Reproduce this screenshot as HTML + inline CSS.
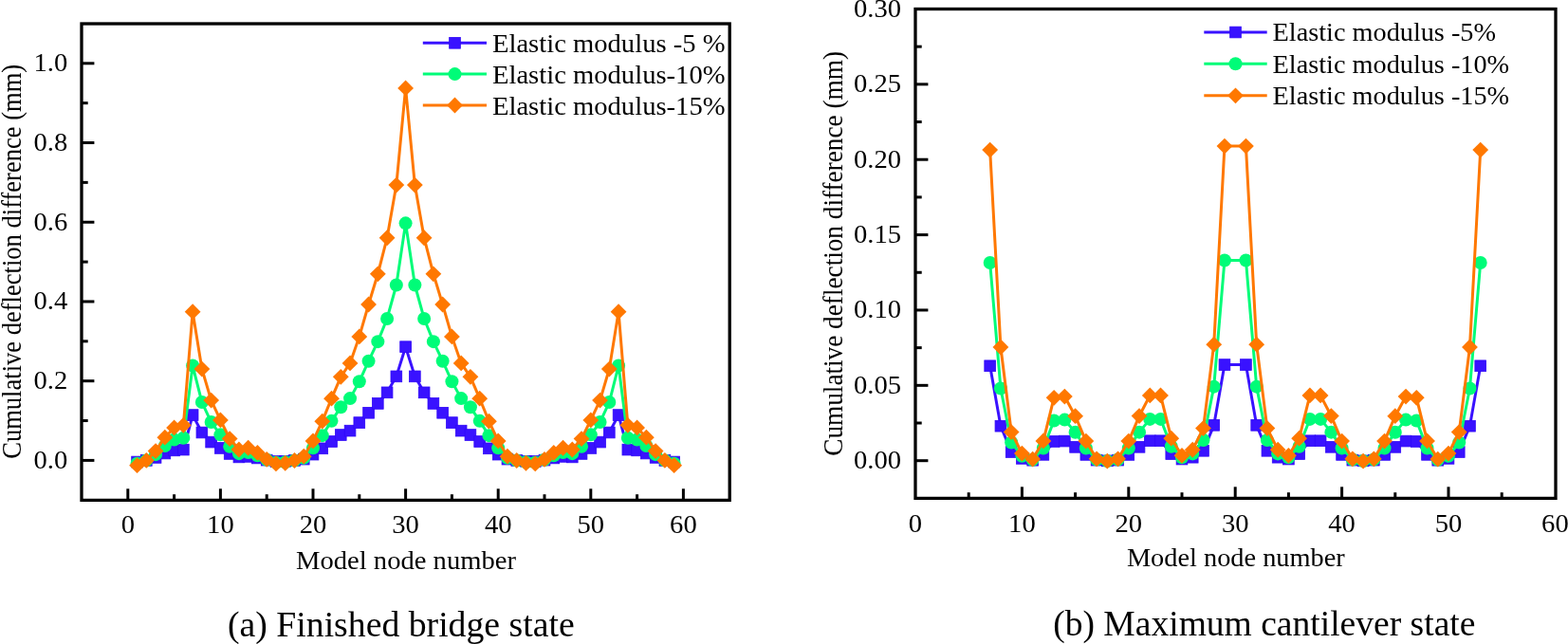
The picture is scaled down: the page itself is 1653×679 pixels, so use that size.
<!DOCTYPE html>
<html><head><meta charset="utf-8"><title>Cumulative deflection difference</title>
<style>
html,body{margin:0;padding:0;background:#fff;}
body{width:1653px;height:679px;overflow:hidden;}
svg{display:block;}
svg text{font-family:"Liberation Serif", "Times New Roman", serif;fill:#000;}
</style></head>
<body>
<svg width="1653" height="679" viewBox="0 0 1653 679">
<rect x="86" y="25" width="683.20" height="502.40" fill="none" stroke="#000" stroke-width="3.3"/>
<line x1="86" y1="485.40" x2="99.40" y2="485.40" stroke="#000" stroke-width="3"/>
<line x1="86" y1="401.68" x2="99.40" y2="401.68" stroke="#000" stroke-width="3"/>
<line x1="86" y1="317.96" x2="99.40" y2="317.96" stroke="#000" stroke-width="3"/>
<line x1="86" y1="234.24" x2="99.40" y2="234.24" stroke="#000" stroke-width="3"/>
<line x1="86" y1="150.52" x2="99.40" y2="150.52" stroke="#000" stroke-width="3"/>
<line x1="86" y1="66.80" x2="99.40" y2="66.80" stroke="#000" stroke-width="3"/>
<line x1="86" y1="443.54" x2="92.70" y2="443.54" stroke="#000" stroke-width="3"/>
<line x1="86" y1="359.82" x2="92.70" y2="359.82" stroke="#000" stroke-width="3"/>
<line x1="86" y1="276.10" x2="92.70" y2="276.10" stroke="#000" stroke-width="3"/>
<line x1="86" y1="192.38" x2="92.70" y2="192.38" stroke="#000" stroke-width="3"/>
<line x1="86" y1="108.66" x2="92.70" y2="108.66" stroke="#000" stroke-width="3"/>
<line x1="134.80" y1="527.4" x2="134.80" y2="515.30" stroke="#000" stroke-width="3"/>
<line x1="232.40" y1="527.4" x2="232.40" y2="515.30" stroke="#000" stroke-width="3"/>
<line x1="330.00" y1="527.4" x2="330.00" y2="515.30" stroke="#000" stroke-width="3"/>
<line x1="427.60" y1="527.4" x2="427.60" y2="515.30" stroke="#000" stroke-width="3"/>
<line x1="525.20" y1="527.4" x2="525.20" y2="515.30" stroke="#000" stroke-width="3"/>
<line x1="622.80" y1="527.4" x2="622.80" y2="515.30" stroke="#000" stroke-width="3"/>
<line x1="720.40" y1="527.4" x2="720.40" y2="515.30" stroke="#000" stroke-width="3"/>
<line x1="183.60" y1="527.4" x2="183.60" y2="521.20" stroke="#000" stroke-width="3"/>
<line x1="281.20" y1="527.4" x2="281.20" y2="521.20" stroke="#000" stroke-width="3"/>
<line x1="378.80" y1="527.4" x2="378.80" y2="521.20" stroke="#000" stroke-width="3"/>
<line x1="476.40" y1="527.4" x2="476.40" y2="521.20" stroke="#000" stroke-width="3"/>
<line x1="574.00" y1="527.4" x2="574.00" y2="521.20" stroke="#000" stroke-width="3"/>
<line x1="671.60" y1="527.4" x2="671.60" y2="521.20" stroke="#000" stroke-width="3"/>
<text transform="translate(71.20,493.90) scale(1.06,1)" font-size="27" text-anchor="end" >0.0</text>
<text transform="translate(71.20,410.18) scale(1.06,1)" font-size="27" text-anchor="end" >0.2</text>
<text transform="translate(71.20,326.46) scale(1.06,1)" font-size="27" text-anchor="end" >0.4</text>
<text transform="translate(71.20,242.74) scale(1.06,1)" font-size="27" text-anchor="end" >0.6</text>
<text transform="translate(71.20,159.02) scale(1.06,1)" font-size="27" text-anchor="end" >0.8</text>
<text transform="translate(71.20,75.30) scale(1.06,1)" font-size="27" text-anchor="end" >1.0</text>
<text transform="translate(134.80,561.50) scale(1.06,1)" font-size="27" text-anchor="middle" >0</text>
<text transform="translate(232.40,561.50) scale(1.06,1)" font-size="27" text-anchor="middle" >10</text>
<text transform="translate(330.00,561.50) scale(1.06,1)" font-size="27" text-anchor="middle" >20</text>
<text transform="translate(427.60,561.50) scale(1.06,1)" font-size="27" text-anchor="middle" >30</text>
<text transform="translate(525.20,561.50) scale(1.06,1)" font-size="27" text-anchor="middle" >40</text>
<text transform="translate(622.80,561.50) scale(1.06,1)" font-size="27" text-anchor="middle" >50</text>
<text transform="translate(720.40,561.50) scale(1.06,1)" font-size="27" text-anchor="middle" >60</text>
<text transform="translate(428.00,599.70) scale(1.06,1)" font-size="27" text-anchor="middle" >Model node number</text>
<text transform="translate(22,275.8) rotate(-90) scale(0.984,1.1)" font-size="27" text-anchor="middle">Cumulative deflection difference (mm)</text>
<polyline points="144.56,487.00 154.32,485.40 164.08,482.41 173.84,478.02 183.60,474.88 193.36,474.10 203.12,437.59 212.88,456.01 222.64,466.08 232.40,472.45 242.16,478.43 251.92,481.93 261.68,481.39 271.44,482.97 281.20,485.09 290.96,486.49 300.72,486.27 310.48,485.43 320.24,484.11 330.00,479.14 339.76,472.82 349.52,465.51 359.28,458.54 369.04,454.15 378.80,445.59 388.56,435.26 398.32,425.43 408.08,413.84 417.84,396.86 427.60,365.68 437.36,396.86 447.12,413.84 456.88,425.43 466.64,435.26 476.40,445.59 486.16,454.15 495.92,458.54 505.68,465.51 515.44,472.82 525.20,479.14 534.96,484.11 544.72,485.43 554.48,486.27 564.24,486.49 574.00,485.09 583.76,482.97 593.52,481.39 603.28,481.93 613.04,478.43 622.80,472.45 632.56,466.08 642.32,456.01 652.08,437.59 661.84,474.10 671.60,474.88 681.36,478.02 691.12,482.41 700.88,485.40 710.64,487.00" fill="none" stroke="#3912ff" stroke-width="3" stroke-linejoin="round"/>
<rect x="138.71" y="481.15" width="11.7" height="11.7" fill="#3912ff" stroke="#3008f8" stroke-width="0.8"/>
<rect x="148.47" y="479.55" width="11.7" height="11.7" fill="#3912ff" stroke="#3008f8" stroke-width="0.8"/>
<rect x="158.23" y="476.56" width="11.7" height="11.7" fill="#3912ff" stroke="#3008f8" stroke-width="0.8"/>
<rect x="167.99" y="472.17" width="11.7" height="11.7" fill="#3912ff" stroke="#3008f8" stroke-width="0.8"/>
<rect x="177.75" y="469.03" width="11.7" height="11.7" fill="#3912ff" stroke="#3008f8" stroke-width="0.8"/>
<rect x="187.51" y="468.25" width="11.7" height="11.7" fill="#3912ff" stroke="#3008f8" stroke-width="0.8"/>
<rect x="197.27" y="431.74" width="11.7" height="11.7" fill="#3912ff" stroke="#3008f8" stroke-width="0.8"/>
<rect x="207.03" y="450.16" width="11.7" height="11.7" fill="#3912ff" stroke="#3008f8" stroke-width="0.8"/>
<rect x="216.79" y="460.23" width="11.7" height="11.7" fill="#3912ff" stroke="#3008f8" stroke-width="0.8"/>
<rect x="226.55" y="466.60" width="11.7" height="11.7" fill="#3912ff" stroke="#3008f8" stroke-width="0.8"/>
<rect x="236.31" y="472.58" width="11.7" height="11.7" fill="#3912ff" stroke="#3008f8" stroke-width="0.8"/>
<rect x="246.07" y="476.08" width="11.7" height="11.7" fill="#3912ff" stroke="#3008f8" stroke-width="0.8"/>
<rect x="255.83" y="475.54" width="11.7" height="11.7" fill="#3912ff" stroke="#3008f8" stroke-width="0.8"/>
<rect x="265.59" y="477.12" width="11.7" height="11.7" fill="#3912ff" stroke="#3008f8" stroke-width="0.8"/>
<rect x="275.35" y="479.24" width="11.7" height="11.7" fill="#3912ff" stroke="#3008f8" stroke-width="0.8"/>
<rect x="285.11" y="480.64" width="11.7" height="11.7" fill="#3912ff" stroke="#3008f8" stroke-width="0.8"/>
<rect x="294.87" y="480.42" width="11.7" height="11.7" fill="#3912ff" stroke="#3008f8" stroke-width="0.8"/>
<rect x="304.63" y="479.58" width="11.7" height="11.7" fill="#3912ff" stroke="#3008f8" stroke-width="0.8"/>
<rect x="314.39" y="478.26" width="11.7" height="11.7" fill="#3912ff" stroke="#3008f8" stroke-width="0.8"/>
<rect x="324.15" y="473.29" width="11.7" height="11.7" fill="#3912ff" stroke="#3008f8" stroke-width="0.8"/>
<rect x="333.91" y="466.97" width="11.7" height="11.7" fill="#3912ff" stroke="#3008f8" stroke-width="0.8"/>
<rect x="343.67" y="459.66" width="11.7" height="11.7" fill="#3912ff" stroke="#3008f8" stroke-width="0.8"/>
<rect x="353.43" y="452.69" width="11.7" height="11.7" fill="#3912ff" stroke="#3008f8" stroke-width="0.8"/>
<rect x="363.19" y="448.30" width="11.7" height="11.7" fill="#3912ff" stroke="#3008f8" stroke-width="0.8"/>
<rect x="372.95" y="439.74" width="11.7" height="11.7" fill="#3912ff" stroke="#3008f8" stroke-width="0.8"/>
<rect x="382.71" y="429.41" width="11.7" height="11.7" fill="#3912ff" stroke="#3008f8" stroke-width="0.8"/>
<rect x="392.47" y="419.58" width="11.7" height="11.7" fill="#3912ff" stroke="#3008f8" stroke-width="0.8"/>
<rect x="402.23" y="407.99" width="11.7" height="11.7" fill="#3912ff" stroke="#3008f8" stroke-width="0.8"/>
<rect x="411.99" y="391.01" width="11.7" height="11.7" fill="#3912ff" stroke="#3008f8" stroke-width="0.8"/>
<rect x="421.75" y="359.83" width="11.7" height="11.7" fill="#3912ff" stroke="#3008f8" stroke-width="0.8"/>
<rect x="431.51" y="391.01" width="11.7" height="11.7" fill="#3912ff" stroke="#3008f8" stroke-width="0.8"/>
<rect x="441.27" y="407.99" width="11.7" height="11.7" fill="#3912ff" stroke="#3008f8" stroke-width="0.8"/>
<rect x="451.03" y="419.58" width="11.7" height="11.7" fill="#3912ff" stroke="#3008f8" stroke-width="0.8"/>
<rect x="460.79" y="429.41" width="11.7" height="11.7" fill="#3912ff" stroke="#3008f8" stroke-width="0.8"/>
<rect x="470.55" y="439.74" width="11.7" height="11.7" fill="#3912ff" stroke="#3008f8" stroke-width="0.8"/>
<rect x="480.31" y="448.30" width="11.7" height="11.7" fill="#3912ff" stroke="#3008f8" stroke-width="0.8"/>
<rect x="490.07" y="452.69" width="11.7" height="11.7" fill="#3912ff" stroke="#3008f8" stroke-width="0.8"/>
<rect x="499.83" y="459.66" width="11.7" height="11.7" fill="#3912ff" stroke="#3008f8" stroke-width="0.8"/>
<rect x="509.59" y="466.97" width="11.7" height="11.7" fill="#3912ff" stroke="#3008f8" stroke-width="0.8"/>
<rect x="519.35" y="473.29" width="11.7" height="11.7" fill="#3912ff" stroke="#3008f8" stroke-width="0.8"/>
<rect x="529.11" y="478.26" width="11.7" height="11.7" fill="#3912ff" stroke="#3008f8" stroke-width="0.8"/>
<rect x="538.87" y="479.58" width="11.7" height="11.7" fill="#3912ff" stroke="#3008f8" stroke-width="0.8"/>
<rect x="548.63" y="480.42" width="11.7" height="11.7" fill="#3912ff" stroke="#3008f8" stroke-width="0.8"/>
<rect x="558.39" y="480.64" width="11.7" height="11.7" fill="#3912ff" stroke="#3008f8" stroke-width="0.8"/>
<rect x="568.15" y="479.24" width="11.7" height="11.7" fill="#3912ff" stroke="#3008f8" stroke-width="0.8"/>
<rect x="577.91" y="477.12" width="11.7" height="11.7" fill="#3912ff" stroke="#3008f8" stroke-width="0.8"/>
<rect x="587.67" y="475.54" width="11.7" height="11.7" fill="#3912ff" stroke="#3008f8" stroke-width="0.8"/>
<rect x="597.43" y="476.08" width="11.7" height="11.7" fill="#3912ff" stroke="#3008f8" stroke-width="0.8"/>
<rect x="607.19" y="472.58" width="11.7" height="11.7" fill="#3912ff" stroke="#3008f8" stroke-width="0.8"/>
<rect x="616.95" y="466.60" width="11.7" height="11.7" fill="#3912ff" stroke="#3008f8" stroke-width="0.8"/>
<rect x="626.71" y="460.23" width="11.7" height="11.7" fill="#3912ff" stroke="#3008f8" stroke-width="0.8"/>
<rect x="636.47" y="450.16" width="11.7" height="11.7" fill="#3912ff" stroke="#3008f8" stroke-width="0.8"/>
<rect x="646.23" y="431.74" width="11.7" height="11.7" fill="#3912ff" stroke="#3008f8" stroke-width="0.8"/>
<rect x="655.99" y="468.25" width="11.7" height="11.7" fill="#3912ff" stroke="#3008f8" stroke-width="0.8"/>
<rect x="665.75" y="469.03" width="11.7" height="11.7" fill="#3912ff" stroke="#3008f8" stroke-width="0.8"/>
<rect x="675.51" y="472.17" width="11.7" height="11.7" fill="#3912ff" stroke="#3008f8" stroke-width="0.8"/>
<rect x="685.27" y="476.56" width="11.7" height="11.7" fill="#3912ff" stroke="#3008f8" stroke-width="0.8"/>
<rect x="695.03" y="479.55" width="11.7" height="11.7" fill="#3912ff" stroke="#3008f8" stroke-width="0.8"/>
<rect x="704.79" y="481.15" width="11.7" height="11.7" fill="#3912ff" stroke="#3008f8" stroke-width="0.8"/>
<polyline points="144.56,488.73 154.32,485.40 164.08,479.16 173.84,469.99 183.60,463.43 193.36,461.80 203.12,385.54 212.88,424.02 222.64,445.06 232.40,458.36 242.16,470.84 251.92,478.15 261.68,477.03 271.44,480.33 281.20,484.76 290.96,487.67 300.72,487.21 310.48,485.45 320.24,482.71 330.00,472.33 339.76,459.14 349.52,443.86 359.28,429.30 369.04,420.12 378.80,402.26 388.56,380.69 398.32,360.16 408.08,335.94 417.84,300.48 427.60,235.36 437.36,300.48 447.12,335.94 456.88,360.16 466.64,380.69 476.40,402.26 486.16,420.12 495.92,429.30 505.68,443.86 515.44,459.14 525.20,472.33 534.96,482.71 544.72,485.45 554.48,487.21 564.24,487.67 574.00,484.76 583.76,480.33 593.52,477.03 603.28,478.15 613.04,470.84 622.80,458.36 632.56,445.06 642.32,424.02 652.08,385.54 661.84,461.80 671.60,463.43 681.36,469.99 691.12,479.16 700.88,485.40 710.64,488.73" fill="none" stroke="#00fc78" stroke-width="3" stroke-linejoin="round"/>
<circle cx="144.56" cy="488.73" r="7.0" fill="#00fc78"/>
<circle cx="154.32" cy="485.40" r="7.0" fill="#00fc78"/>
<circle cx="164.08" cy="479.16" r="7.0" fill="#00fc78"/>
<circle cx="173.84" cy="469.99" r="7.0" fill="#00fc78"/>
<circle cx="183.60" cy="463.43" r="7.0" fill="#00fc78"/>
<circle cx="193.36" cy="461.80" r="7.0" fill="#00fc78"/>
<circle cx="203.12" cy="385.54" r="7.0" fill="#00fc78"/>
<circle cx="212.88" cy="424.02" r="7.0" fill="#00fc78"/>
<circle cx="222.64" cy="445.06" r="7.0" fill="#00fc78"/>
<circle cx="232.40" cy="458.36" r="7.0" fill="#00fc78"/>
<circle cx="242.16" cy="470.84" r="7.0" fill="#00fc78"/>
<circle cx="251.92" cy="478.15" r="7.0" fill="#00fc78"/>
<circle cx="261.68" cy="477.03" r="7.0" fill="#00fc78"/>
<circle cx="271.44" cy="480.33" r="7.0" fill="#00fc78"/>
<circle cx="281.20" cy="484.76" r="7.0" fill="#00fc78"/>
<circle cx="290.96" cy="487.67" r="7.0" fill="#00fc78"/>
<circle cx="300.72" cy="487.21" r="7.0" fill="#00fc78"/>
<circle cx="310.48" cy="485.45" r="7.0" fill="#00fc78"/>
<circle cx="320.24" cy="482.71" r="7.0" fill="#00fc78"/>
<circle cx="330.00" cy="472.33" r="7.0" fill="#00fc78"/>
<circle cx="339.76" cy="459.14" r="7.0" fill="#00fc78"/>
<circle cx="349.52" cy="443.86" r="7.0" fill="#00fc78"/>
<circle cx="359.28" cy="429.30" r="7.0" fill="#00fc78"/>
<circle cx="369.04" cy="420.12" r="7.0" fill="#00fc78"/>
<circle cx="378.80" cy="402.26" r="7.0" fill="#00fc78"/>
<circle cx="388.56" cy="380.69" r="7.0" fill="#00fc78"/>
<circle cx="398.32" cy="360.16" r="7.0" fill="#00fc78"/>
<circle cx="408.08" cy="335.94" r="7.0" fill="#00fc78"/>
<circle cx="417.84" cy="300.48" r="7.0" fill="#00fc78"/>
<circle cx="427.60" cy="235.36" r="7.0" fill="#00fc78"/>
<circle cx="437.36" cy="300.48" r="7.0" fill="#00fc78"/>
<circle cx="447.12" cy="335.94" r="7.0" fill="#00fc78"/>
<circle cx="456.88" cy="360.16" r="7.0" fill="#00fc78"/>
<circle cx="466.64" cy="380.69" r="7.0" fill="#00fc78"/>
<circle cx="476.40" cy="402.26" r="7.0" fill="#00fc78"/>
<circle cx="486.16" cy="420.12" r="7.0" fill="#00fc78"/>
<circle cx="495.92" cy="429.30" r="7.0" fill="#00fc78"/>
<circle cx="505.68" cy="443.86" r="7.0" fill="#00fc78"/>
<circle cx="515.44" cy="459.14" r="7.0" fill="#00fc78"/>
<circle cx="525.20" cy="472.33" r="7.0" fill="#00fc78"/>
<circle cx="534.96" cy="482.71" r="7.0" fill="#00fc78"/>
<circle cx="544.72" cy="485.45" r="7.0" fill="#00fc78"/>
<circle cx="554.48" cy="487.21" r="7.0" fill="#00fc78"/>
<circle cx="564.24" cy="487.67" r="7.0" fill="#00fc78"/>
<circle cx="574.00" cy="484.76" r="7.0" fill="#00fc78"/>
<circle cx="583.76" cy="480.33" r="7.0" fill="#00fc78"/>
<circle cx="593.52" cy="477.03" r="7.0" fill="#00fc78"/>
<circle cx="603.28" cy="478.15" r="7.0" fill="#00fc78"/>
<circle cx="613.04" cy="470.84" r="7.0" fill="#00fc78"/>
<circle cx="622.80" cy="458.36" r="7.0" fill="#00fc78"/>
<circle cx="632.56" cy="445.06" r="7.0" fill="#00fc78"/>
<circle cx="642.32" cy="424.02" r="7.0" fill="#00fc78"/>
<circle cx="652.08" cy="385.54" r="7.0" fill="#00fc78"/>
<circle cx="661.84" cy="461.80" r="7.0" fill="#00fc78"/>
<circle cx="671.60" cy="463.43" r="7.0" fill="#00fc78"/>
<circle cx="681.36" cy="469.99" r="7.0" fill="#00fc78"/>
<circle cx="691.12" cy="479.16" r="7.0" fill="#00fc78"/>
<circle cx="700.88" cy="485.40" r="7.0" fill="#00fc78"/>
<circle cx="710.64" cy="488.73" r="7.0" fill="#00fc78"/>
<polyline points="144.56,490.63 154.32,485.40 164.08,475.60 173.84,461.20 183.60,450.91 193.36,448.35 203.12,328.63 212.88,389.04 222.64,422.07 232.40,442.95 242.16,462.54 251.92,474.01 261.68,472.26 271.44,477.45 281.20,484.40 290.96,488.96 300.72,488.25 310.48,485.48 320.24,481.17 330.00,464.89 339.76,444.17 349.52,420.18 359.28,397.33 369.04,382.93 378.80,354.88 388.56,321.02 398.32,288.78 408.08,250.77 417.84,195.10 427.60,92.88 437.36,195.10 447.12,250.77 456.88,288.78 466.64,321.02 476.40,354.88 486.16,382.93 495.92,397.33 505.68,420.18 515.44,444.17 525.20,464.89 534.96,481.17 544.72,485.48 554.48,488.25 564.24,488.96 574.00,484.40 583.76,477.45 593.52,472.26 603.28,474.01 613.04,462.54 622.80,442.95 632.56,422.07 642.32,389.04 652.08,328.63 661.84,448.35 671.60,450.91 681.36,461.20 691.12,475.60 700.88,485.40 710.64,490.63" fill="none" stroke="#ff7800" stroke-width="3" stroke-linejoin="round"/>
<polygon points="144.56,482.23 152.96,490.63 144.56,499.03 136.16,490.63" fill="#ff7800"/>
<polygon points="154.32,477.00 162.72,485.40 154.32,493.80 145.92,485.40" fill="#ff7800"/>
<polygon points="164.08,467.20 172.48,475.60 164.08,484.00 155.68,475.60" fill="#ff7800"/>
<polygon points="173.84,452.80 182.24,461.20 173.84,469.60 165.44,461.20" fill="#ff7800"/>
<polygon points="183.60,442.51 192.00,450.91 183.60,459.31 175.20,450.91" fill="#ff7800"/>
<polygon points="193.36,439.95 201.76,448.35 193.36,456.75 184.96,448.35" fill="#ff7800"/>
<polygon points="203.12,320.23 211.52,328.63 203.12,337.03 194.72,328.63" fill="#ff7800"/>
<polygon points="212.88,380.64 221.28,389.04 212.88,397.44 204.48,389.04" fill="#ff7800"/>
<polygon points="222.64,413.67 231.04,422.07 222.64,430.47 214.24,422.07" fill="#ff7800"/>
<polygon points="232.40,434.55 240.80,442.95 232.40,451.35 224.00,442.95" fill="#ff7800"/>
<polygon points="242.16,454.14 250.56,462.54 242.16,470.94 233.76,462.54" fill="#ff7800"/>
<polygon points="251.92,465.61 260.32,474.01 251.92,482.41 243.52,474.01" fill="#ff7800"/>
<polygon points="261.68,463.86 270.08,472.26 261.68,480.66 253.28,472.26" fill="#ff7800"/>
<polygon points="271.44,469.05 279.84,477.45 271.44,485.85 263.04,477.45" fill="#ff7800"/>
<polygon points="281.20,476.00 289.60,484.40 281.20,492.80 272.80,484.40" fill="#ff7800"/>
<polygon points="290.96,480.56 299.36,488.96 290.96,497.36 282.56,488.96" fill="#ff7800"/>
<polygon points="300.72,479.85 309.12,488.25 300.72,496.65 292.32,488.25" fill="#ff7800"/>
<polygon points="310.48,477.08 318.88,485.48 310.48,493.88 302.08,485.48" fill="#ff7800"/>
<polygon points="320.24,472.77 328.64,481.17 320.24,489.57 311.84,481.17" fill="#ff7800"/>
<polygon points="330.00,456.49 338.40,464.89 330.00,473.29 321.60,464.89" fill="#ff7800"/>
<polygon points="339.76,435.77 348.16,444.17 339.76,452.57 331.36,444.17" fill="#ff7800"/>
<polygon points="349.52,411.78 357.92,420.18 349.52,428.58 341.12,420.18" fill="#ff7800"/>
<polygon points="359.28,388.93 367.68,397.33 359.28,405.73 350.88,397.33" fill="#ff7800"/>
<polygon points="369.04,374.53 377.44,382.93 369.04,391.33 360.64,382.93" fill="#ff7800"/>
<polygon points="378.80,346.48 387.20,354.88 378.80,363.28 370.40,354.88" fill="#ff7800"/>
<polygon points="388.56,312.62 396.96,321.02 388.56,329.42 380.16,321.02" fill="#ff7800"/>
<polygon points="398.32,280.38 406.72,288.78 398.32,297.18 389.92,288.78" fill="#ff7800"/>
<polygon points="408.08,242.37 416.48,250.77 408.08,259.17 399.68,250.77" fill="#ff7800"/>
<polygon points="417.84,186.70 426.24,195.10 417.84,203.50 409.44,195.10" fill="#ff7800"/>
<polygon points="427.60,84.48 436.00,92.88 427.60,101.28 419.20,92.88" fill="#ff7800"/>
<polygon points="437.36,186.70 445.76,195.10 437.36,203.50 428.96,195.10" fill="#ff7800"/>
<polygon points="447.12,242.37 455.52,250.77 447.12,259.17 438.72,250.77" fill="#ff7800"/>
<polygon points="456.88,280.38 465.28,288.78 456.88,297.18 448.48,288.78" fill="#ff7800"/>
<polygon points="466.64,312.62 475.04,321.02 466.64,329.42 458.24,321.02" fill="#ff7800"/>
<polygon points="476.40,346.48 484.80,354.88 476.40,363.28 468.00,354.88" fill="#ff7800"/>
<polygon points="486.16,374.53 494.56,382.93 486.16,391.33 477.76,382.93" fill="#ff7800"/>
<polygon points="495.92,388.93 504.32,397.33 495.92,405.73 487.52,397.33" fill="#ff7800"/>
<polygon points="505.68,411.78 514.08,420.18 505.68,428.58 497.28,420.18" fill="#ff7800"/>
<polygon points="515.44,435.77 523.84,444.17 515.44,452.57 507.04,444.17" fill="#ff7800"/>
<polygon points="525.20,456.49 533.60,464.89 525.20,473.29 516.80,464.89" fill="#ff7800"/>
<polygon points="534.96,472.77 543.36,481.17 534.96,489.57 526.56,481.17" fill="#ff7800"/>
<polygon points="544.72,477.08 553.12,485.48 544.72,493.88 536.32,485.48" fill="#ff7800"/>
<polygon points="554.48,479.85 562.88,488.25 554.48,496.65 546.08,488.25" fill="#ff7800"/>
<polygon points="564.24,480.56 572.64,488.96 564.24,497.36 555.84,488.96" fill="#ff7800"/>
<polygon points="574.00,476.00 582.40,484.40 574.00,492.80 565.60,484.40" fill="#ff7800"/>
<polygon points="583.76,469.05 592.16,477.45 583.76,485.85 575.36,477.45" fill="#ff7800"/>
<polygon points="593.52,463.86 601.92,472.26 593.52,480.66 585.12,472.26" fill="#ff7800"/>
<polygon points="603.28,465.61 611.68,474.01 603.28,482.41 594.88,474.01" fill="#ff7800"/>
<polygon points="613.04,454.14 621.44,462.54 613.04,470.94 604.64,462.54" fill="#ff7800"/>
<polygon points="622.80,434.55 631.20,442.95 622.80,451.35 614.40,442.95" fill="#ff7800"/>
<polygon points="632.56,413.67 640.96,422.07 632.56,430.47 624.16,422.07" fill="#ff7800"/>
<polygon points="642.32,380.64 650.72,389.04 642.32,397.44 633.92,389.04" fill="#ff7800"/>
<polygon points="652.08,320.23 660.48,328.63 652.08,337.03 643.68,328.63" fill="#ff7800"/>
<polygon points="661.84,439.95 670.24,448.35 661.84,456.75 653.44,448.35" fill="#ff7800"/>
<polygon points="671.60,442.51 680.00,450.91 671.60,459.31 663.20,450.91" fill="#ff7800"/>
<polygon points="681.36,452.80 689.76,461.20 681.36,469.60 672.96,461.20" fill="#ff7800"/>
<polygon points="691.12,467.20 699.52,475.60 691.12,484.00 682.72,475.60" fill="#ff7800"/>
<polygon points="700.88,477.00 709.28,485.40 700.88,493.80 692.48,485.40" fill="#ff7800"/>
<polygon points="710.64,482.23 719.04,490.63 710.64,499.03 702.24,490.63" fill="#ff7800"/>
<line x1="445.8" y1="45.3" x2="513" y2="45.3" stroke="#3912ff" stroke-width="3"/>
<rect x="473.65" y="39.45" width="11.7" height="11.7" fill="#3912ff" stroke="#3008f8" stroke-width="0.8"/>
<text transform="translate(519.00,54.70) scale(1.06,1)" font-size="27" text-anchor="start" >Elastic modulus -5 %</text>
<line x1="445.8" y1="78.1" x2="513" y2="78.1" stroke="#00fc78" stroke-width="3"/>
<circle cx="479.50" cy="78.10" r="7.0" fill="#00fc78"/>
<text transform="translate(519.00,87.80) scale(1.06,1)" font-size="27" text-anchor="start" >Elastic modulus-10%</text>
<line x1="445.8" y1="111.0" x2="513" y2="111.0" stroke="#ff7800" stroke-width="3"/>
<polygon points="479.50,102.60 487.90,111.00 479.50,119.40 471.10,111.00" fill="#ff7800"/>
<text transform="translate(519.00,120.50) scale(1.06,1)" font-size="27" text-anchor="start" >Elastic modulus-15%</text>
<rect x="965" y="9.5" width="675.00" height="515.90" fill="none" stroke="#000" stroke-width="3.3"/>
<line x1="965" y1="485.70" x2="978.40" y2="485.70" stroke="#000" stroke-width="3"/>
<line x1="965" y1="406.33" x2="978.40" y2="406.33" stroke="#000" stroke-width="3"/>
<line x1="965" y1="326.96" x2="978.40" y2="326.96" stroke="#000" stroke-width="3"/>
<line x1="965" y1="247.59" x2="978.40" y2="247.59" stroke="#000" stroke-width="3"/>
<line x1="965" y1="168.22" x2="978.40" y2="168.22" stroke="#000" stroke-width="3"/>
<line x1="965" y1="88.85" x2="978.40" y2="88.85" stroke="#000" stroke-width="3"/>
<line x1="965" y1="446.01" x2="971.70" y2="446.01" stroke="#000" stroke-width="3"/>
<line x1="965" y1="366.64" x2="971.70" y2="366.64" stroke="#000" stroke-width="3"/>
<line x1="965" y1="287.27" x2="971.70" y2="287.27" stroke="#000" stroke-width="3"/>
<line x1="965" y1="207.90" x2="971.70" y2="207.90" stroke="#000" stroke-width="3"/>
<line x1="965" y1="128.53" x2="971.70" y2="128.53" stroke="#000" stroke-width="3"/>
<line x1="965" y1="49.16" x2="971.70" y2="49.16" stroke="#000" stroke-width="3"/>
<line x1="1077.40" y1="525.4" x2="1077.40" y2="513.30" stroke="#000" stroke-width="3"/>
<line x1="1189.80" y1="525.4" x2="1189.80" y2="513.30" stroke="#000" stroke-width="3"/>
<line x1="1302.20" y1="525.4" x2="1302.20" y2="513.30" stroke="#000" stroke-width="3"/>
<line x1="1414.60" y1="525.4" x2="1414.60" y2="513.30" stroke="#000" stroke-width="3"/>
<line x1="1527.00" y1="525.4" x2="1527.00" y2="513.30" stroke="#000" stroke-width="3"/>
<line x1="1021.20" y1="525.4" x2="1021.20" y2="519.20" stroke="#000" stroke-width="3"/>
<line x1="1133.60" y1="525.4" x2="1133.60" y2="519.20" stroke="#000" stroke-width="3"/>
<line x1="1246.00" y1="525.4" x2="1246.00" y2="519.20" stroke="#000" stroke-width="3"/>
<line x1="1358.40" y1="525.4" x2="1358.40" y2="519.20" stroke="#000" stroke-width="3"/>
<line x1="1470.80" y1="525.4" x2="1470.80" y2="519.20" stroke="#000" stroke-width="3"/>
<line x1="1583.20" y1="525.4" x2="1583.20" y2="519.20" stroke="#000" stroke-width="3"/>
<text transform="translate(950.00,494.10) scale(1.06,1)" font-size="27" text-anchor="end" >0.00</text>
<text transform="translate(950.00,414.73) scale(1.06,1)" font-size="27" text-anchor="end" >0.05</text>
<text transform="translate(950.00,335.36) scale(1.06,1)" font-size="27" text-anchor="end" >0.10</text>
<text transform="translate(950.00,255.99) scale(1.06,1)" font-size="27" text-anchor="end" >0.15</text>
<text transform="translate(950.00,176.62) scale(1.06,1)" font-size="27" text-anchor="end" >0.20</text>
<text transform="translate(950.00,97.25) scale(1.06,1)" font-size="27" text-anchor="end" >0.25</text>
<text transform="translate(950.00,17.88) scale(1.06,1)" font-size="27" text-anchor="end" >0.30</text>
<text transform="translate(965.00,560.70) scale(1.06,1)" font-size="27" text-anchor="middle" >0</text>
<text transform="translate(1077.40,560.70) scale(1.06,1)" font-size="27" text-anchor="middle" >10</text>
<text transform="translate(1189.80,560.70) scale(1.06,1)" font-size="27" text-anchor="middle" >20</text>
<text transform="translate(1302.20,560.70) scale(1.06,1)" font-size="27" text-anchor="middle" >30</text>
<text transform="translate(1414.60,560.70) scale(1.06,1)" font-size="27" text-anchor="middle" >40</text>
<text transform="translate(1527.00,560.70) scale(1.06,1)" font-size="27" text-anchor="middle" >50</text>
<text transform="translate(1639.40,560.70) scale(1.06,1)" font-size="27" text-anchor="middle" >60</text>
<text transform="translate(1302.80,597.30) scale(1.05,1)" font-size="27" text-anchor="middle" >Model node number</text>
<text transform="translate(887.5,267.4) rotate(-90) scale(1.009,1.1)" font-size="27" text-anchor="middle">Cumulative deflection difference (mm)</text>
<polyline points="1043.68,385.77 1054.92,449.19 1066.16,476.50 1077.40,483.38 1088.64,485.22 1099.88,479.36 1111.12,465.46 1122.36,465.07 1133.60,471.37 1144.84,479.41 1156.08,485.12 1167.32,485.85 1178.56,485.12 1189.80,479.41 1201.04,471.32 1212.28,464.74 1223.52,464.74 1234.76,478.53 1246.00,484.05 1257.24,482.21 1268.48,475.29 1279.72,448.32 1290.96,384.56 1313.44,384.56 1324.68,448.32 1335.92,475.29 1347.16,482.21 1358.40,484.05 1369.64,478.53 1380.88,464.74 1392.12,464.74 1403.36,471.32 1414.60,479.41 1425.84,485.12 1437.08,485.85 1448.32,485.12 1459.56,479.41 1470.80,471.37 1482.04,465.07 1493.28,465.46 1504.52,479.36 1515.76,485.22 1527.00,483.38 1538.24,476.50 1549.48,449.19 1560.72,385.77" fill="none" stroke="#3912ff" stroke-width="3" stroke-linejoin="round"/>
<rect x="1037.83" y="379.92" width="11.7" height="11.7" fill="#3912ff" stroke="#3008f8" stroke-width="0.8"/>
<rect x="1049.07" y="443.34" width="11.7" height="11.7" fill="#3912ff" stroke="#3008f8" stroke-width="0.8"/>
<rect x="1060.31" y="470.65" width="11.7" height="11.7" fill="#3912ff" stroke="#3008f8" stroke-width="0.8"/>
<rect x="1071.55" y="477.53" width="11.7" height="11.7" fill="#3912ff" stroke="#3008f8" stroke-width="0.8"/>
<rect x="1082.79" y="479.37" width="11.7" height="11.7" fill="#3912ff" stroke="#3008f8" stroke-width="0.8"/>
<rect x="1094.03" y="473.51" width="11.7" height="11.7" fill="#3912ff" stroke="#3008f8" stroke-width="0.8"/>
<rect x="1105.27" y="459.61" width="11.7" height="11.7" fill="#3912ff" stroke="#3008f8" stroke-width="0.8"/>
<rect x="1116.51" y="459.22" width="11.7" height="11.7" fill="#3912ff" stroke="#3008f8" stroke-width="0.8"/>
<rect x="1127.75" y="465.52" width="11.7" height="11.7" fill="#3912ff" stroke="#3008f8" stroke-width="0.8"/>
<rect x="1138.99" y="473.56" width="11.7" height="11.7" fill="#3912ff" stroke="#3008f8" stroke-width="0.8"/>
<rect x="1150.23" y="479.27" width="11.7" height="11.7" fill="#3912ff" stroke="#3008f8" stroke-width="0.8"/>
<rect x="1161.47" y="480.00" width="11.7" height="11.7" fill="#3912ff" stroke="#3008f8" stroke-width="0.8"/>
<rect x="1172.71" y="479.27" width="11.7" height="11.7" fill="#3912ff" stroke="#3008f8" stroke-width="0.8"/>
<rect x="1183.95" y="473.56" width="11.7" height="11.7" fill="#3912ff" stroke="#3008f8" stroke-width="0.8"/>
<rect x="1195.19" y="465.47" width="11.7" height="11.7" fill="#3912ff" stroke="#3008f8" stroke-width="0.8"/>
<rect x="1206.43" y="458.89" width="11.7" height="11.7" fill="#3912ff" stroke="#3008f8" stroke-width="0.8"/>
<rect x="1217.67" y="458.89" width="11.7" height="11.7" fill="#3912ff" stroke="#3008f8" stroke-width="0.8"/>
<rect x="1228.91" y="472.68" width="11.7" height="11.7" fill="#3912ff" stroke="#3008f8" stroke-width="0.8"/>
<rect x="1240.15" y="478.20" width="11.7" height="11.7" fill="#3912ff" stroke="#3008f8" stroke-width="0.8"/>
<rect x="1251.39" y="476.36" width="11.7" height="11.7" fill="#3912ff" stroke="#3008f8" stroke-width="0.8"/>
<rect x="1262.63" y="469.44" width="11.7" height="11.7" fill="#3912ff" stroke="#3008f8" stroke-width="0.8"/>
<rect x="1273.87" y="442.47" width="11.7" height="11.7" fill="#3912ff" stroke="#3008f8" stroke-width="0.8"/>
<rect x="1285.11" y="378.71" width="11.7" height="11.7" fill="#3912ff" stroke="#3008f8" stroke-width="0.8"/>
<rect x="1307.59" y="378.71" width="11.7" height="11.7" fill="#3912ff" stroke="#3008f8" stroke-width="0.8"/>
<rect x="1318.83" y="442.47" width="11.7" height="11.7" fill="#3912ff" stroke="#3008f8" stroke-width="0.8"/>
<rect x="1330.07" y="469.44" width="11.7" height="11.7" fill="#3912ff" stroke="#3008f8" stroke-width="0.8"/>
<rect x="1341.31" y="476.36" width="11.7" height="11.7" fill="#3912ff" stroke="#3008f8" stroke-width="0.8"/>
<rect x="1352.55" y="478.20" width="11.7" height="11.7" fill="#3912ff" stroke="#3008f8" stroke-width="0.8"/>
<rect x="1363.79" y="472.68" width="11.7" height="11.7" fill="#3912ff" stroke="#3008f8" stroke-width="0.8"/>
<rect x="1375.03" y="458.89" width="11.7" height="11.7" fill="#3912ff" stroke="#3008f8" stroke-width="0.8"/>
<rect x="1386.27" y="458.89" width="11.7" height="11.7" fill="#3912ff" stroke="#3008f8" stroke-width="0.8"/>
<rect x="1397.51" y="465.47" width="11.7" height="11.7" fill="#3912ff" stroke="#3008f8" stroke-width="0.8"/>
<rect x="1408.75" y="473.56" width="11.7" height="11.7" fill="#3912ff" stroke="#3008f8" stroke-width="0.8"/>
<rect x="1419.99" y="479.27" width="11.7" height="11.7" fill="#3912ff" stroke="#3008f8" stroke-width="0.8"/>
<rect x="1431.23" y="480.00" width="11.7" height="11.7" fill="#3912ff" stroke="#3008f8" stroke-width="0.8"/>
<rect x="1442.47" y="479.27" width="11.7" height="11.7" fill="#3912ff" stroke="#3008f8" stroke-width="0.8"/>
<rect x="1453.71" y="473.56" width="11.7" height="11.7" fill="#3912ff" stroke="#3008f8" stroke-width="0.8"/>
<rect x="1464.95" y="465.52" width="11.7" height="11.7" fill="#3912ff" stroke="#3008f8" stroke-width="0.8"/>
<rect x="1476.19" y="459.22" width="11.7" height="11.7" fill="#3912ff" stroke="#3008f8" stroke-width="0.8"/>
<rect x="1487.43" y="459.61" width="11.7" height="11.7" fill="#3912ff" stroke="#3008f8" stroke-width="0.8"/>
<rect x="1498.67" y="473.51" width="11.7" height="11.7" fill="#3912ff" stroke="#3008f8" stroke-width="0.8"/>
<rect x="1509.91" y="479.37" width="11.7" height="11.7" fill="#3912ff" stroke="#3008f8" stroke-width="0.8"/>
<rect x="1521.15" y="477.53" width="11.7" height="11.7" fill="#3912ff" stroke="#3008f8" stroke-width="0.8"/>
<rect x="1532.39" y="470.65" width="11.7" height="11.7" fill="#3912ff" stroke="#3008f8" stroke-width="0.8"/>
<rect x="1543.63" y="443.34" width="11.7" height="11.7" fill="#3912ff" stroke="#3008f8" stroke-width="0.8"/>
<rect x="1554.87" y="379.92" width="11.7" height="11.7" fill="#3912ff" stroke="#3008f8" stroke-width="0.8"/>
<polyline points="1043.68,276.99 1054.92,409.46 1066.16,466.49 1077.40,480.85 1088.64,484.69 1099.88,472.45 1111.12,443.43 1122.36,442.62 1133.60,455.77 1144.84,472.55 1156.08,484.49 1167.32,486.00 1178.56,484.49 1189.80,472.55 1201.04,455.67 1212.28,441.92 1223.52,441.92 1234.76,470.73 1246.00,482.26 1257.24,478.42 1268.48,463.96 1279.72,407.64 1290.96,274.47 1313.44,274.47 1324.68,407.64 1335.92,463.96 1347.16,478.42 1358.40,482.26 1369.64,470.73 1380.88,441.92 1392.12,441.92 1403.36,455.67 1414.60,472.55 1425.84,484.49 1437.08,486.00 1448.32,484.49 1459.56,472.55 1470.80,455.77 1482.04,442.62 1493.28,443.43 1504.52,472.45 1515.76,484.69 1527.00,480.85 1538.24,466.49 1549.48,409.46 1560.72,276.99" fill="none" stroke="#00fc78" stroke-width="3" stroke-linejoin="round"/>
<circle cx="1043.68" cy="276.99" r="7.0" fill="#00fc78"/>
<circle cx="1054.92" cy="409.46" r="7.0" fill="#00fc78"/>
<circle cx="1066.16" cy="466.49" r="7.0" fill="#00fc78"/>
<circle cx="1077.40" cy="480.85" r="7.0" fill="#00fc78"/>
<circle cx="1088.64" cy="484.69" r="7.0" fill="#00fc78"/>
<circle cx="1099.88" cy="472.45" r="7.0" fill="#00fc78"/>
<circle cx="1111.12" cy="443.43" r="7.0" fill="#00fc78"/>
<circle cx="1122.36" cy="442.62" r="7.0" fill="#00fc78"/>
<circle cx="1133.60" cy="455.77" r="7.0" fill="#00fc78"/>
<circle cx="1144.84" cy="472.55" r="7.0" fill="#00fc78"/>
<circle cx="1156.08" cy="484.49" r="7.0" fill="#00fc78"/>
<circle cx="1167.32" cy="486.00" r="7.0" fill="#00fc78"/>
<circle cx="1178.56" cy="484.49" r="7.0" fill="#00fc78"/>
<circle cx="1189.80" cy="472.55" r="7.0" fill="#00fc78"/>
<circle cx="1201.04" cy="455.67" r="7.0" fill="#00fc78"/>
<circle cx="1212.28" cy="441.92" r="7.0" fill="#00fc78"/>
<circle cx="1223.52" cy="441.92" r="7.0" fill="#00fc78"/>
<circle cx="1234.76" cy="470.73" r="7.0" fill="#00fc78"/>
<circle cx="1246.00" cy="482.26" r="7.0" fill="#00fc78"/>
<circle cx="1257.24" cy="478.42" r="7.0" fill="#00fc78"/>
<circle cx="1268.48" cy="463.96" r="7.0" fill="#00fc78"/>
<circle cx="1279.72" cy="407.64" r="7.0" fill="#00fc78"/>
<circle cx="1290.96" cy="274.47" r="7.0" fill="#00fc78"/>
<circle cx="1313.44" cy="274.47" r="7.0" fill="#00fc78"/>
<circle cx="1324.68" cy="407.64" r="7.0" fill="#00fc78"/>
<circle cx="1335.92" cy="463.96" r="7.0" fill="#00fc78"/>
<circle cx="1347.16" cy="478.42" r="7.0" fill="#00fc78"/>
<circle cx="1358.40" cy="482.26" r="7.0" fill="#00fc78"/>
<circle cx="1369.64" cy="470.73" r="7.0" fill="#00fc78"/>
<circle cx="1380.88" cy="441.92" r="7.0" fill="#00fc78"/>
<circle cx="1392.12" cy="441.92" r="7.0" fill="#00fc78"/>
<circle cx="1403.36" cy="455.67" r="7.0" fill="#00fc78"/>
<circle cx="1414.60" cy="472.55" r="7.0" fill="#00fc78"/>
<circle cx="1425.84" cy="484.49" r="7.0" fill="#00fc78"/>
<circle cx="1437.08" cy="486.00" r="7.0" fill="#00fc78"/>
<circle cx="1448.32" cy="484.49" r="7.0" fill="#00fc78"/>
<circle cx="1459.56" cy="472.55" r="7.0" fill="#00fc78"/>
<circle cx="1470.80" cy="455.77" r="7.0" fill="#00fc78"/>
<circle cx="1482.04" cy="442.62" r="7.0" fill="#00fc78"/>
<circle cx="1493.28" cy="443.43" r="7.0" fill="#00fc78"/>
<circle cx="1504.52" cy="472.45" r="7.0" fill="#00fc78"/>
<circle cx="1515.76" cy="484.69" r="7.0" fill="#00fc78"/>
<circle cx="1527.00" cy="480.85" r="7.0" fill="#00fc78"/>
<circle cx="1538.24" cy="466.49" r="7.0" fill="#00fc78"/>
<circle cx="1549.48" cy="409.46" r="7.0" fill="#00fc78"/>
<circle cx="1560.72" cy="276.99" r="7.0" fill="#00fc78"/>
<polyline points="1043.68,158.06 1054.92,366.01 1066.16,455.54 1077.40,478.08 1088.64,484.11 1099.88,464.91 1111.12,419.35 1122.36,418.08 1133.60,438.71 1144.84,465.06 1156.08,483.80 1167.32,486.18 1178.56,483.80 1189.80,465.06 1201.04,438.55 1212.28,416.97 1223.52,416.97 1234.76,462.21 1246.00,480.30 1257.24,474.27 1268.48,451.57 1279.72,363.15 1290.96,154.09 1313.44,154.09 1324.68,363.15 1335.92,451.57 1347.16,474.27 1358.40,480.30 1369.64,462.21 1380.88,416.97 1392.12,416.97 1403.36,438.55 1414.60,465.06 1425.84,483.80 1437.08,486.18 1448.32,483.80 1459.56,465.06 1470.80,438.71 1482.04,418.08 1493.28,419.35 1504.52,464.91 1515.76,484.11 1527.00,478.08 1538.24,455.54 1549.48,366.01 1560.72,158.06" fill="none" stroke="#ff7800" stroke-width="3" stroke-linejoin="round"/>
<polygon points="1043.68,149.66 1052.08,158.06 1043.68,166.46 1035.28,158.06" fill="#ff7800"/>
<polygon points="1054.92,357.61 1063.32,366.01 1054.92,374.41 1046.52,366.01" fill="#ff7800"/>
<polygon points="1066.16,447.14 1074.56,455.54 1066.16,463.94 1057.76,455.54" fill="#ff7800"/>
<polygon points="1077.40,469.68 1085.80,478.08 1077.40,486.48 1069.00,478.08" fill="#ff7800"/>
<polygon points="1088.64,475.71 1097.04,484.11 1088.64,492.51 1080.24,484.11" fill="#ff7800"/>
<polygon points="1099.88,456.51 1108.28,464.91 1099.88,473.31 1091.48,464.91" fill="#ff7800"/>
<polygon points="1111.12,410.95 1119.52,419.35 1111.12,427.75 1102.72,419.35" fill="#ff7800"/>
<polygon points="1122.36,409.68 1130.76,418.08 1122.36,426.48 1113.96,418.08" fill="#ff7800"/>
<polygon points="1133.60,430.31 1142.00,438.71 1133.60,447.11 1125.20,438.71" fill="#ff7800"/>
<polygon points="1144.84,456.66 1153.24,465.06 1144.84,473.46 1136.44,465.06" fill="#ff7800"/>
<polygon points="1156.08,475.40 1164.48,483.80 1156.08,492.20 1147.68,483.80" fill="#ff7800"/>
<polygon points="1167.32,477.78 1175.72,486.18 1167.32,494.58 1158.92,486.18" fill="#ff7800"/>
<polygon points="1178.56,475.40 1186.96,483.80 1178.56,492.20 1170.16,483.80" fill="#ff7800"/>
<polygon points="1189.80,456.66 1198.20,465.06 1189.80,473.46 1181.40,465.06" fill="#ff7800"/>
<polygon points="1201.04,430.15 1209.44,438.55 1201.04,446.95 1192.64,438.55" fill="#ff7800"/>
<polygon points="1212.28,408.57 1220.68,416.97 1212.28,425.37 1203.88,416.97" fill="#ff7800"/>
<polygon points="1223.52,408.57 1231.92,416.97 1223.52,425.37 1215.12,416.97" fill="#ff7800"/>
<polygon points="1234.76,453.81 1243.16,462.21 1234.76,470.61 1226.36,462.21" fill="#ff7800"/>
<polygon points="1246.00,471.90 1254.40,480.30 1246.00,488.70 1237.60,480.30" fill="#ff7800"/>
<polygon points="1257.24,465.87 1265.64,474.27 1257.24,482.67 1248.84,474.27" fill="#ff7800"/>
<polygon points="1268.48,443.17 1276.88,451.57 1268.48,459.97 1260.08,451.57" fill="#ff7800"/>
<polygon points="1279.72,354.75 1288.12,363.15 1279.72,371.55 1271.32,363.15" fill="#ff7800"/>
<polygon points="1290.96,145.69 1299.36,154.09 1290.96,162.49 1282.56,154.09" fill="#ff7800"/>
<polygon points="1313.44,145.69 1321.84,154.09 1313.44,162.49 1305.04,154.09" fill="#ff7800"/>
<polygon points="1324.68,354.75 1333.08,363.15 1324.68,371.55 1316.28,363.15" fill="#ff7800"/>
<polygon points="1335.92,443.17 1344.32,451.57 1335.92,459.97 1327.52,451.57" fill="#ff7800"/>
<polygon points="1347.16,465.87 1355.56,474.27 1347.16,482.67 1338.76,474.27" fill="#ff7800"/>
<polygon points="1358.40,471.90 1366.80,480.30 1358.40,488.70 1350.00,480.30" fill="#ff7800"/>
<polygon points="1369.64,453.81 1378.04,462.21 1369.64,470.61 1361.24,462.21" fill="#ff7800"/>
<polygon points="1380.88,408.57 1389.28,416.97 1380.88,425.37 1372.48,416.97" fill="#ff7800"/>
<polygon points="1392.12,408.57 1400.52,416.97 1392.12,425.37 1383.72,416.97" fill="#ff7800"/>
<polygon points="1403.36,430.15 1411.76,438.55 1403.36,446.95 1394.96,438.55" fill="#ff7800"/>
<polygon points="1414.60,456.66 1423.00,465.06 1414.60,473.46 1406.20,465.06" fill="#ff7800"/>
<polygon points="1425.84,475.40 1434.24,483.80 1425.84,492.20 1417.44,483.80" fill="#ff7800"/>
<polygon points="1437.08,477.78 1445.48,486.18 1437.08,494.58 1428.68,486.18" fill="#ff7800"/>
<polygon points="1448.32,475.40 1456.72,483.80 1448.32,492.20 1439.92,483.80" fill="#ff7800"/>
<polygon points="1459.56,456.66 1467.96,465.06 1459.56,473.46 1451.16,465.06" fill="#ff7800"/>
<polygon points="1470.80,430.31 1479.20,438.71 1470.80,447.11 1462.40,438.71" fill="#ff7800"/>
<polygon points="1482.04,409.68 1490.44,418.08 1482.04,426.48 1473.64,418.08" fill="#ff7800"/>
<polygon points="1493.28,410.95 1501.68,419.35 1493.28,427.75 1484.88,419.35" fill="#ff7800"/>
<polygon points="1504.52,456.51 1512.92,464.91 1504.52,473.31 1496.12,464.91" fill="#ff7800"/>
<polygon points="1515.76,475.71 1524.16,484.11 1515.76,492.51 1507.36,484.11" fill="#ff7800"/>
<polygon points="1527.00,469.68 1535.40,478.08 1527.00,486.48 1518.60,478.08" fill="#ff7800"/>
<polygon points="1538.24,447.14 1546.64,455.54 1538.24,463.94 1529.84,455.54" fill="#ff7800"/>
<polygon points="1549.48,357.61 1557.88,366.01 1549.48,374.41 1541.08,366.01" fill="#ff7800"/>
<polygon points="1560.72,149.66 1569.12,158.06 1560.72,166.46 1552.32,158.06" fill="#ff7800"/>
<line x1="1269.3" y1="34.0" x2="1335.7" y2="34.0" stroke="#3912ff" stroke-width="3"/>
<rect x="1296.65" y="28.15" width="11.7" height="11.7" fill="#3912ff" stroke="#3008f8" stroke-width="0.8"/>
<text transform="translate(1341.60,43.40) scale(1.047,1)" font-size="27" text-anchor="start" >Elastic modulus -5%</text>
<line x1="1269.3" y1="67.3" x2="1335.7" y2="67.3" stroke="#00fc78" stroke-width="3"/>
<circle cx="1302.50" cy="67.30" r="7.0" fill="#00fc78"/>
<text transform="translate(1341.60,76.70) scale(1.047,1)" font-size="27" text-anchor="start" >Elastic modulus -10%</text>
<line x1="1269.3" y1="100.8" x2="1335.7" y2="100.8" stroke="#ff7800" stroke-width="3"/>
<polygon points="1302.50,92.40 1310.90,100.80 1302.50,109.20 1294.10,100.80" fill="#ff7800"/>
<text transform="translate(1341.60,110.00) scale(1.047,1)" font-size="27" text-anchor="start" >Elastic modulus -15%</text>
<text transform="translate(240.00,670.60) scale(1.02,1)" font-size="37" text-anchor="start" >(a) Finished bridge state</text>
<text transform="translate(1110.20,669.80) scale(1.0154,1)" font-size="37" text-anchor="start" >(b) Maximum cantilever state</text>
</svg>
</body></html>
